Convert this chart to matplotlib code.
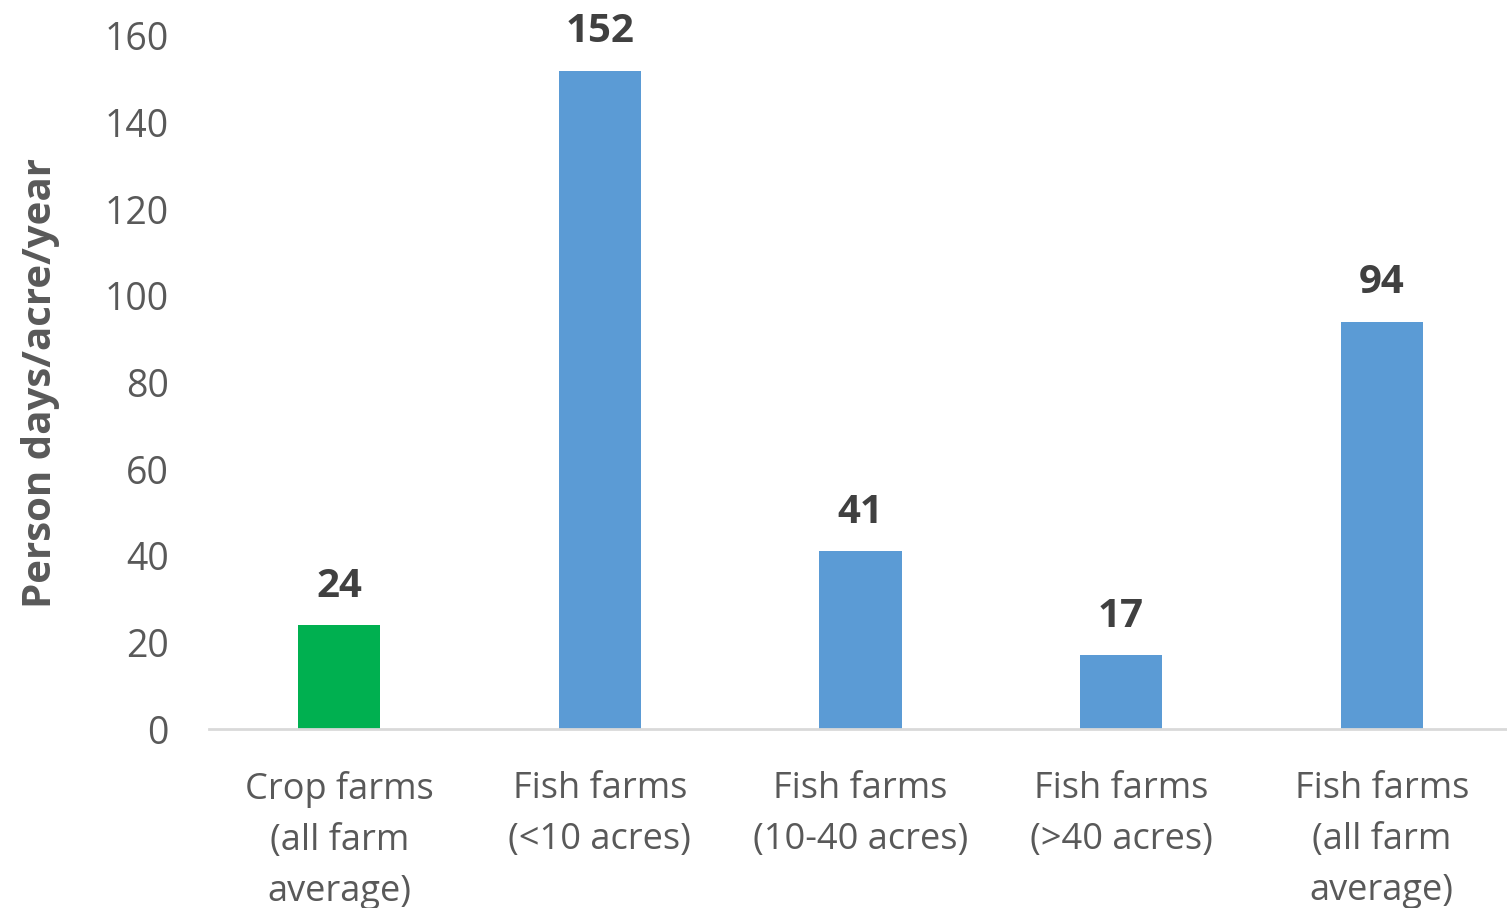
import matplotlib
matplotlib.use("Agg")
import matplotlib.pyplot as plt

categories = ["Crop farms\n(all farm\naverage)", "Fish farms\n(<10 acres)", "Fish farms\n(10-40 acres)",
              "Fish farms\n(>40 acres)", "Fish farms\n(all farm\naverage)"]
values = [24, 152, 41, 17, 94]
colors = ["#00B050", "#5B9BD5", "#5B9BD5", "#5B9BD5", "#5B9BD5"]
yticks = [0, 20, 40, 60, 80, 100, 120, 140, 160]

plt.rcParams['font.family'] = ['Open Sans', 'DejaVu Sans']

fig = plt.figure(figsize=(15.07, 9.08), dpi=100)
ax = fig.add_axes([209/1507, 1-729/908, (1512-209)/1507, (729-36)/908])

x = list(range(len(values)))
ax.bar(x, values, width=0.315, color=colors, zorder=2)
for xi, v in zip(x, values):
    ax.text(xi, v + 4.5, str(v), ha='center', va='bottom', fontsize=29, fontweight='bold', color='#404040')

ax.set_xlim(-0.5, 4.5)
ax.set_ylim(0, 160)
ax.set_yticks(yticks)
ax.set_yticklabels([str(t) for t in yticks])
ax.set_xticks(x)
ax.set_xticklabels(categories, linespacing=1.56)
ax.tick_params(axis='both', length=0, labelcolor='#595959')
ax.tick_params(axis='x', pad=30, labelsize=26)
ax.tick_params(axis='y', pad=29, labelsize=27)
for s in ['top', 'right', 'left']:
    ax.spines[s].set_visible(False)
ax.spines['bottom'].set_color('#D9D9D9')
ax.spines['bottom'].set_linewidth(2)
ax.set_ylabel("Person days/acre/year", fontsize=29, fontweight='bold', color='#595959', labelpad=32)

fig.savefig("out.png", dpi=100)
